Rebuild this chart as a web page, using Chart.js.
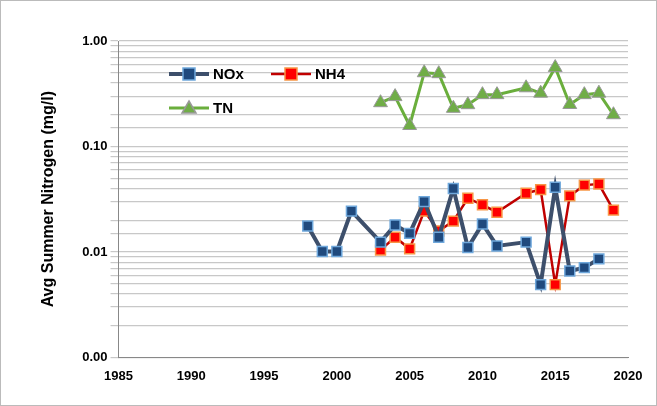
<!DOCTYPE html>
<html><head><meta charset="utf-8">
<script src="https://cdn.jsdelivr.net/npm/chart.js@4"></script>
<style>
html,body{margin:0;padding:0;background:#fff}
#wrap{position:absolute;left:0;top:0;width:655px;height:404px;border:1px solid #bbb}
</style></head><body>
<div id="wrap"><canvas id="c" width="655" height="404"></canvas></div>
<script>
// annual summer averages (mg/l)
const noxYears = [1998,1999,2000,2001,2003,2004,2005,2006,2007,2008,2009,2010,2011,2013,2014,2015,2016,2017,2018];
const noxVals  = [0.0176,0.0101,0.0101,0.0244,0.0124,0.018,0.015,0.030,0.0138,0.040,0.011,0.0184,0.0114,0.0124,0.0049,0.041,0.0066,0.0071,0.0086];
const nh4Years = [2003,2004,2005,2006,2007,2008,2009,2010,2011,2013,2014,2015,2016,2017,2018,2019];
const nh4Vals  = [0.0104,0.0138,0.0107,0.0244,0.0158,0.0196,0.0323,0.028,0.0238,0.036,0.039,0.0049,0.034,0.043,0.044,0.0249];
const tnYears  = [2003,2004,2005,2006,2007,2008,2009,2010,2011,2013,2014,2015,2016,2017,2018,2019];
const tnVals   = [0.26,0.297,0.158,0.50,0.49,0.23,0.249,0.31,0.31,0.36,0.32,0.56,0.25,0.31,0.32,0.20];

const pts = (xs, ys) => xs.map((x, i) => ({x: x, y: ys[i]}));

const legendPlugin = {
  id: 'inlegend',
  afterDraw(chart) {
    const ctx = chart.ctx;
    const spots = [[168, 73], [270, 73], [168, 107]];
    chart.data.datasets.forEach((ds, i) => {
      const [x, y] = spots[i];
      ctx.save();
      ctx.strokeStyle = ds.borderColor; ctx.lineWidth = ds.borderWidth;
      ctx.beginPath(); ctx.moveTo(x, y); ctx.lineTo(x + 40, y); ctx.stroke();
      ctx.fillStyle = ds.pointBackgroundColor; ctx.strokeStyle = ds.pointBorderColor; ctx.lineWidth = 1.5;
      ctx.beginPath();
      if (ds.pointStyle === 'triangle') { ctx.moveTo(x + 20, y - 7); ctx.lineTo(x + 27, y + 5); ctx.lineTo(x + 13, y + 5); ctx.closePath(); }
      else ctx.rect(x + 14, y - 6, 12, 12);
      ctx.fill(); ctx.stroke();
      ctx.fillStyle = '#000'; ctx.font = 'bold 15px "Liberation Sans", Arial, sans-serif';
      ctx.textBaseline = 'middle';
      ctx.fillText(ds.label, x + 44, y + 1);
      ctx.restore();
    });
  }
};

new Chart(document.getElementById('c'), {
  type: 'line',
  data: {
    datasets: [
      {label: 'NOx', data: pts(noxYears, noxVals), borderColor: '#3d4f6b', borderWidth: 4,
       pointStyle: 'rect', pointRadius: 7, pointBackgroundColor: '#1f497d', pointBorderColor: '#6fa8dc', pointBorderWidth: 1.5},
      {label: 'NH4', data: pts(nh4Years, nh4Vals), borderColor: '#c00000', borderWidth: 2.5,
       pointStyle: 'rect', pointRadius: 7, pointBackgroundColor: '#ff0000', pointBorderColor: '#f79646', pointBorderWidth: 1.5},
      {label: 'TN', data: pts(tnYears, tnVals), borderColor: '#6aae3c', borderWidth: 3,
       pointStyle: 'triangle', pointRadius: 8, pointBackgroundColor: '#70ad47', pointBorderColor: '#999', pointBorderWidth: 1}
    ]
  },
  options: {
    responsive: false, animation: false,
    layout: {padding: {top: 40, right: 28, left: 38, bottom: 18}},
    plugins: {legend: {display: false}, tooltip: {enabled: false}},
    scales: {
      x: {type: 'linear', min: 1985, max: 2020,
          ticks: {stepSize: 5, color: '#000', font: {size: 13, weight: 'bold'}, callback: v => String(v)},
          grid: {display: false}, border: {color: '#888'}},
      y: {type: 'logarithmic', min: 0.001, max: 1,
          ticks: {color: '#000', font: {size: 13, weight: 'bold'}, autoSkip: false,
            callback: v => { const l = Math.log10(v); return Math.abs(l - Math.round(l)) < 1e-9 ? v.toFixed(2) : ''; }},
          grid: {color: '#c8c8c8', lineWidth: 1.2}, border: {color: '#888'},
          title: {display: true, text: 'Avg Summer Nitrogen (mg/l)', color: '#000', font: {size: 16, weight: 'bold'},
                  padding: {top: 0, bottom: 21}}}
    }
  },
  plugins: [legendPlugin]
});
</script>
</body></html>
